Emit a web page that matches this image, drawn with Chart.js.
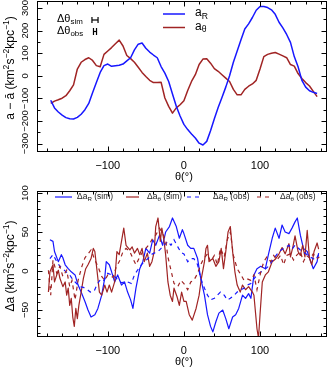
<!DOCTYPE html>
<html>
<head>
<meta charset="utf-8">
<title>acceleration residuals</title>
<script src="https://cdn.jsdelivr.net/npm/chart.js@4.4.1/dist/chart.umd.min.js"></script>
<style>
  html, body { margin: 0; padding: 0; background: #fff; }
  .panel { position: absolute; left: 0; }
  #topPanel { top: 0; }
  #botPanel { top: 185px; }
</style>
</head>
<body>
<canvas id="topPanel" class="panel" width="331" height="185"></canvas>
<canvas id="botPanel" class="panel" width="331" height="186"></canvas>
<script>
// ---- top panel: a - mean(a) vs theta ----
const thetaTop = [-175,-170,-165,-160,-155,-150,-145,-140,-135,-130,-125,-120,-115,-110,-105,-100,-95,-90,-85,-80,
  -75,-70,-65,-60,-55,-50,-45,-40,-35,-30,-25,-20,-15,-10,-5,0,5,10,15,20,
  25,30,35,40,45,50,55,60,65,70,75,80,85,90,95,100,105,110,115,120,
  125,130,135,140,145,150,155,160,165,170,175];
const aR = [-108,-142,-160,-174,-185,-190,-191,-184,-170,-150,-122,-75,-30,15,45,52,42,45,47,52,
  66,80,115,140,145,122,105,92,80,41,12,-25,-80,-135,-178,-215,-238,-257,-275,-298,
  -306,-290,-243,-190,-140,-96,-50,0,60,110,160,207,230,258,290,307,307,302,292,272,
  237,212,183,148,85,40,-20,-50,-66,-73,-78];
const aT = [-122,-112,-106,-99,-88,-66,-40,30,60,72,80,68,45,40,95,110,125,142,158,132,
  90,76,60,38,15,-3,-20,-30,-30,-28,-98,-135,-165,-142,-128,-110,-65,-25,5,50,
  74,76,56,32,20,5,-10,-25,-60,-84,-84,-60,-46,-36,-20,30,85,95,100,103,
  96,88,80,50,43,10,-12,-30,-45,-69,-92];

// angular resolution bars (degrees)
const resSim = 8;
const resObs = 4;

// ---- bottom panel: delta a vs theta ----
const thetaRsim = [-176,-172,-170,-165,-161,-159,-156,-152,-148,-143,-139,-135,-130,-126,-122,-117,-113,-108,-104,-102,
  -98,-95,-91,-87,-82,-78,-74,-70,-67,-63,-58,-54,-50,-45,-41,-37,-32,-28,-24,-19,
  -15,-10,-6,-2,0,5,9,13,18,22,27,31,35,38,42,46,51,55,59,64,
  68,72,77,81,85,88,92,96,101,107,111,116,120,125,129,133,138,142,146,149,
  153,157,162,166,170,175,177];
const dRsim = [40,38,25,12,21,17,8,3,-1,-5,-18,-27,-39,-50,-59,-56,-48,-31,-9,12,
  8,-1,-14,-5,-18,-14,-27,-37,-48,-22,3,12,29,23,40,33,46,33,50,57,
  68,57,42,53,48,33,29,29,16,-9,-31,-56,-71,-78,-65,-54,-50,-61,-74,-59,
  -56,-48,-31,-35,-29,-35,-5,3,6,3,21,42,55,42,59,50,48,55,63,68,
  46,29,25,14,3,12,23];

const thetaTsim = [-178,-176,-172,-170,-167,-165,-163,-159,-156,-154,-152,-150,-148,-146,-144,-142,-140,-138,-135,-132,
  -129,-126,-122,-119,-117,-114,-111,-108,-104,-101,-98,-95,-91,-88,-85,-82,-79,-76,-71,-68,
  -65,-61,-58,-55,-52,-48,-45,-42,-39,-37,-34,-31,-29,-26,-24,-21,-18,-15,-13,-9,
  -6,-3,0,3,7,11,16,20,23,27,29,31,33,38,42,46,49,52,55,58,
  61,64,67,70,74,77,81,85,90,92,96,98,100,103,107,111,116,120,125,129,
  133,138,140,143,146,150,153,156,159,162,165,168,171,175,177];
const dTsim = [-27,-1,8,-14,-5,1,-9,-20,-14,-31,-22,-44,-35,-59,-71,-48,-61,-44,-27,-9,
  3,8,16,29,25,-1,-27,-31,-18,-27,-18,-27,-14,25,21,38,55,33,27,31,
  23,29,21,29,12,23,6,12,25,57,68,38,55,38,21,-14,-31,-39,-22,-33,
  -44,-27,-39,-39,-56,-63,-48,-31,-9,12,29,33,12,16,6,12,29,3,25,50,
  57,25,-1,-18,-27,-18,-24,-20,-27,-31,-74,-86,-56,-14,-5,-1,12,15,22,30,
  22,35,18,30,45,25,20,33,18,52,16,8,25,36,28];

const thetaRobs = [-176,-172,-168,-163,-159,-155,-150,-146,-141,-137,-132,-128,-123,-118,-114,-109,-105,-100,-95,-90,
  -86,-82,-78,-74,-69,-65,-61,-56,-52,-47,-43,-39,-34,-30,-26,-21,-17,-13,-8,-4,
  0,5,9,13,18,22,27,31,35,40,44,48,53,57,61,66,70,75,79,83,
  88,92,98,105,111,118,125,131,138,142,146,153,159,166,173,177];
const dRobs = [16,21,14,6,3,-1,-5,-11,-16,-20,-21,-23,-27,-26,-17,-10,-12,-3,-5,-8,
  -12,-15,-14,-14,-16,-5,1,8,12,16,21,23,25,29,33,38,33,40,31,24,
  22,12,16,16,8,-9,-22,-31,-37,-35,-31,-27,-31,-37,-35,-31,-27,-24,-22,-18,
  -16,-10,-3,1,6,16,25,29,33,28,33,27,23,18,14,21];

const thetaTobs = [-178,-175,-172,-167,-163,-159,-154,-150,-147,-143,-139,-134,-130,-126,-122,-117,-113,-108,-104,-100,
  -93,-89,-84,-80,-76,-71,-67,-63,-58,-54,-50,-45,-41,-37,-32,-28,-24,-21,-17,-13,
  -8,-4,0,5,9,13,18,22,26,31,35,40,44,48,53,57,61,65,70,75,
  79,83,88,92,96,101,105,109,114,118,122,127,131,135,140,144,148,153,157,161,
  166,170,175,178];
const dTobs = [1,-31,14,-3,6,-7,1,-20,-12,-37,-12,6,17,22,27,14,6,-7,-12,-5,
  -8,5,14,25,29,25,16,8,18,25,29,35,42,46,55,48,40,18,1,-16,
  -20,-12,-16,-24,-14,-12,-3,8,16,22,12,20,8,29,18,40,50,20,3,-5,
  -12,-10,-12,-5,-24,-1,12,18,12,20,14,20,8,20,22,14,20,25,12,20,
  16,22,16,18];

// tick labels
const xLabels = [-100, 0, 100];
const yLabelsTop = [-300, -200, -100, 0, 100, 200, 300];
const yLabelsBot = [-50, 0, 50, 100];

const BLUE = '#1717ff';
const RED = '#a02424';
const FONT = '"Liberation Sans", Arial, sans-serif';

function pts(xs, ys) {
  return xs.map((v, i) => ({ x: v, y: ys[i] }));
}

function fmt(v) {
  return v < 0 ? '\u2212' + Math.abs(v) : String(v);
}

// text with sub/superscripts: parts = [[text, 'n'|'sub'|'sup'], ...]
function rich(ctx, parts, x, y, size, align) {
  const sz = m => (m === 'n' ? size : size * 0.72);
  let w = 0;
  for (const [t, m] of parts) {
    ctx.font = sz(m) + 'px ' + FONT;
    w += ctx.measureText(t).width;
  }
  let cx = align === 'center' ? x - w / 2 : x;
  ctx.textAlign = 'left';
  ctx.textBaseline = 'middle';
  for (const [t, m] of parts) {
    ctx.font = sz(m) + 'px ' + FONT;
    const dy = m === 'sub' ? size * 0.3 : m === 'sup' ? -size * 0.35 : 0;
    ctx.fillText(t, cx, y + dy);
    cx += ctx.measureText(t).width;
  }
}

function seg(ctx, x0, y0, x1, y1) {
  ctx.beginPath();
  ctx.moveTo(x0, y0);
  ctx.lineTo(x1, y1);
  ctx.stroke();
}

// box, inward ticks, labels, titles
function framePlugin(cfg) {
  return {
    id: 'frame',
    afterDraw(chart) {
      const { ctx, chartArea: a, scales: { x, y } } = chart;
      ctx.save();
      ctx.strokeStyle = '#000';
      ctx.fillStyle = '#000';
      ctx.lineWidth = 1;
      ctx.setLineDash([]);
      const L = Math.round(a.left) + 0.5, R = Math.round(a.right) - 0.5;
      const T = Math.round(a.top) + 0.5, B = Math.round(a.bottom) - 0.5;
      ctx.strokeRect(L, T, R - L, B - T);

      ctx.beginPath();
      for (let v = -180; v <= 180; v += 20) {
        const p = Math.round(x.getPixelForValue(v)) + 0.5;
        const len = xLabels.includes(v) ? 5 : 3;
        ctx.moveTo(p, B); ctx.lineTo(p, B - len);
        ctx.moveTo(p, T); ctx.lineTo(p, T + len);
      }
      for (let v = cfg.yFrom; v <= cfg.yTo; v += cfg.yStep) {
        const p = Math.round(y.getPixelForValue(v)) + 0.5;
        const len = cfg.yLabels.includes(v) ? 5 : 3;
        ctx.moveTo(L, p); ctx.lineTo(L + len, p);
        ctx.moveTo(R, p); ctx.lineTo(R - len, p);
      }
      ctx.stroke();

      ctx.font = '11px ' + FONT;
      ctx.textAlign = 'center';
      ctx.textBaseline = 'middle';
      xLabels.forEach(v => ctx.fillText(fmt(v), x.getPixelForValue(v), a.bottom + 14));
      rich(ctx, [['\u03b8(\u00b0)', 'n']], x.getPixelForValue(0), a.bottom + 25, 11, 'center');

      cfg.yLabels.forEach(v => {
        ctx.save();
        ctx.translate(25, y.getPixelForValue(v));
        ctx.rotate(-Math.PI / 2);
        ctx.font = '9.5px ' + FONT;
        ctx.textAlign = 'center';
        ctx.textBaseline = 'middle';
        ctx.fillText(fmt(v), 0, 0);
        ctx.restore();
      });

      ctx.save();
      ctx.translate(11, cfg.yTitleY);
      ctx.rotate(-Math.PI / 2);
      rich(ctx, cfg.yTitle, 0, 0, 12, 'center');
      ctx.restore();

      cfg.extra(ctx, chart);
      ctx.restore();
    }
  };
}

Chart.defaults.font.family = FONT;

const unitParts = [[' (km', 'n'], ['2', 'sup'], ['s', 'n'], ['\u22122', 'sup'], ['kpc', 'n'], ['\u22121', 'sup'], [')', 'n']];

new Chart(document.getElementById('topPanel'), {
  type: 'line',
  data: {
    datasets: [
      { label: 'aR', data: pts(thetaTop, aR), borderColor: BLUE, borderWidth: 1.5, pointRadius: 0, tension: 0, borderJoinStyle: 'round' },
      { label: 'aT', data: pts(thetaTop, aT), borderColor: RED, borderWidth: 1.5, pointRadius: 0, tension: 0, borderJoinStyle: 'round' }
    ]
  },
  options: {
    responsive: false,
    animation: false,
    events: [],
    layout: { padding: { left: 37, right: 4, top: 1, bottom: 33 } },
    plugins: { legend: { display: false }, tooltip: { enabled: false } },
    scales: {
      x: { type: 'linear', min: -193, max: 188, display: false },
      y: { type: 'linear', min: -337, max: 331, display: false }
    }
  },
  plugins: [framePlugin({
    yFrom: -300, yTo: 300, yStep: 50, yLabels: yLabelsTop, yTitleY: 68,
    yTitle: [['a \u2212 \u0101', 'n']].concat(unitParts),
    extra(ctx, chart) {
      const x = chart.scales.x;
      ctx.lineWidth = 1.5;
      ctx.strokeStyle = BLUE;
      seg(ctx, 163, 14, 185, 14);
      ctx.strokeStyle = RED;
      seg(ctx, 163, 27.5, 185, 27.5);
      ctx.fillStyle = '#000';
      rich(ctx, [['a', 'n'], ['R', 'sub']], 195, 13, 12, 'left');
      rich(ctx, [['a', 'n'], ['\u03b8', 'sub']], 195, 26.5, 12, 'left');
      rich(ctx, [['\u0394\u03b8', 'n'], ['sim', 'sub']], 57, 19, 11, 'left');
      rich(ctx, [['\u0394\u03b8', 'n'], ['obs', 'sub']], 57, 31, 11, 'left');
      // resolution bars
      ctx.strokeStyle = '#000';
      ctx.lineWidth = 1.2;
      const wS = x.getPixelForValue(resSim) - x.getPixelForValue(0);
      const wO = x.getPixelForValue(resObs) - x.getPixelForValue(0);
      const cx = 95;
      seg(ctx, cx - wS / 2, 20, cx + wS / 2, 20);
      seg(ctx, cx - wS / 2, 17, cx - wS / 2, 23);
      seg(ctx, cx + wS / 2, 17, cx + wS / 2, 23);
      seg(ctx, cx - wO / 2, 31.5, cx + wO / 2, 31.5);
      seg(ctx, cx - wO / 2, 28, cx - wO / 2, 35);
      seg(ctx, cx + wO / 2, 28, cx + wO / 2, 35);
    }
  })]
});

const legendItems = [
  { x0: 55, x1: 72, tx: 77, color: BLUE, dash: [], label: [['\u0394a', 'n'], ['R', 'sub'], [' (sim)', 'n']] },
  { x0: 126, x1: 139, tx: 147, color: RED, dash: [], label: [['\u0394a', 'n'], ['\u03b8', 'sub'], [' (sim)', 'n']] },
  { x0: 187, x1: 201, tx: 213, color: BLUE, dash: [4, 4], label: [['\u0394a', 'n'], ['R', 'sub'], [' (obs)', 'n']] },
  { x0: 257, x1: 271, tx: 280, color: RED, dash: [4, 4], label: [['\u0394a', 'n'], ['\u03b8', 'sub'], [' (obs)', 'n']] }
];

new Chart(document.getElementById('botPanel'), {
  type: 'line',
  data: {
    datasets: [
      { label: 'dRsim', data: pts(thetaRsim, dRsim), borderColor: BLUE, borderWidth: 1.2, pointRadius: 0, tension: 0, order: 4, borderJoinStyle: 'round' },
      { label: 'dTsim', data: pts(thetaTsim, dTsim), borderColor: RED, borderWidth: 1.2, pointRadius: 0, tension: 0, order: 3, borderJoinStyle: 'round' },
      { label: 'dRobs', data: pts(thetaRobs, dRobs), borderColor: BLUE, borderWidth: 1.2, borderDash: [4, 4], pointRadius: 0, tension: 0, order: 2 },
      { label: 'dTobs', data: pts(thetaTobs, dTobs), borderColor: RED, borderWidth: 1.2, borderDash: [4, 4], pointRadius: 0, tension: 0, order: 1 }
    ]
  },
  options: {
    responsive: false,
    animation: false,
    events: [],
    layout: { padding: { left: 37, right: 4, top: 6, bottom: 34 } },
    plugins: { legend: { display: false }, tooltip: { enabled: false } },
    scales: {
      x: { type: 'linear', min: -193, max: 188, display: false },
      y: { type: 'linear', min: -84.6, max: 102.6, display: false }
    }
  },
  plugins: [framePlugin({
    yFrom: -80, yTo: 100, yStep: 10, yLabels: yLabelsBot, yTitleY: 81,
    yTitle: [['\u0394a', 'n']].concat(unitParts),
    extra(ctx) {
      legendItems.forEach(it => {
        ctx.strokeStyle = it.color;
        ctx.lineWidth = 1.2;
        ctx.setLineDash(it.dash);
        seg(ctx, it.x0, 12, it.x1, 12);
        ctx.setLineDash([]);
        ctx.fillStyle = '#222';
        rich(ctx, it.label, it.tx, 11.5, 8.5, 'left');
      });
    }
  })]
});
</script>
</body>
</html>
